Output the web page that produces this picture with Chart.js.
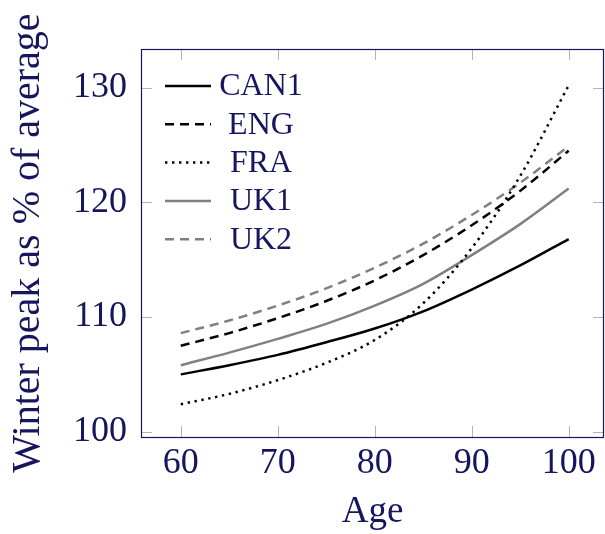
<!DOCTYPE html>
<html>
<head>
<meta charset="utf-8">
<script src="https://cdn.jsdelivr.net/npm/chart.js@4.4.1/dist/chart.umd.min.js"></script>
<style>
  html, body { margin: 0; padding: 0; background: #fff; }
  canvas { display: block; }
</style>
</head>
<body>
<canvas id="chart" width="605" height="534"></canvas>
<script>
/* ---------- data ---------- */
const ages     = [60, 65, 70, 75, 80, 85, 90, 95, 100];
const can1     = [105.0, 105.8, 106.7, 107.8, 109.0, 110.5, 112.4, 114.5, 116.8];
const eng      = [107.5, 108.6, 109.9, 111.4, 113.2, 115.4, 118.0, 121.0, 124.5];
const fra      = [102.4, 103.3, 104.5, 106.0, 108.0, 111.2, 116.0, 122.3, 130.2];
const uk1      = [105.8, 106.9, 108.1, 109.4, 111.0, 112.9, 115.4, 118.1, 121.2];
const uk2      = [108.6, 109.7, 111.0, 112.5, 114.3, 116.4, 118.9, 121.7, 124.9];
const xTicks   = [60, 70, 80, 90, 100];
const yTicks   = [100, 110, 120, 130];

const NAVY  = '#16165e';
const GREY  = '#808080';
const SERIF = '"Liberation Serif", "DejaVu Serif", serif';

const pts = ys => ages.map((a, i) => ({ x: a, y: ys[i] }));
const line = (label, ys, color, dash) => ({
  label, data: pts(ys), borderColor: color, borderWidth: 2.5,
  borderDash: dash, pointRadius: 0, cubicInterpolationMode: 'monotone', fill: false
});

/* ---------- frame, inward ticks, legend ---------- */
const pgfLook = {
  id: 'pgfLook',
  afterDatasetsDraw(chart) {
    const { ctx, chartArea: a, scales: { x, y } } = chart;
    ctx.save();
    // inward tick marks on all four sides
    ctx.strokeStyle = '#b4b4b4';
    ctx.lineWidth = 1;
    ctx.beginPath();
    xTicks.forEach(v => {
      const px = Math.round(x.getPixelForValue(v)) + 0.5;
      ctx.moveTo(px, a.bottom); ctx.lineTo(px, a.bottom - 11);
      ctx.moveTo(px, a.top);    ctx.lineTo(px, a.top + 11);
    });
    yTicks.forEach(v => {
      const py = Math.round(y.getPixelForValue(v)) + 0.5;
      ctx.moveTo(a.left, py);  ctx.lineTo(a.left + 11, py);
      ctx.moveTo(a.right, py); ctx.lineTo(a.right - 11, py);
    });
    ctx.stroke();
    // frame
    ctx.strokeStyle = NAVY;
    ctx.lineWidth = 1.2;
    ctx.strokeRect(Math.round(a.left) + 0.5, Math.round(a.top) + 0.5,
                   Math.round(a.right - a.left) - 1, Math.round(a.bottom - a.top));
    // legend (pgfplots style, no box)
    ctx.font = '32px ' + SERIF;
    ctx.textAlign = 'center';
    ctx.textBaseline = 'middle';
    chart.data.datasets.forEach((ds, i) => {
      const yy = 86 + i * 38.3;
      ctx.strokeStyle = ds.borderColor;
      ctx.lineWidth = ds.borderWidth;
      ctx.setLineDash(ds.borderDash || []);
      ctx.beginPath();
      ctx.moveTo(165, yy); ctx.lineTo(211, yy);
      ctx.stroke();
      ctx.setLineDash([]);
      ctx.fillStyle = NAVY;
      ctx.fillText(ds.label, 261, yy + 1);
    });
    ctx.restore();
  }
};

new Chart(document.getElementById('chart'), {
  type: 'line',
  data: {
    datasets: [
      line('CAN1', can1, '#000', []),
      line('ENG',  eng,  '#000', [9, 6]),
      line('FRA',  fra,  '#000', [2.4, 4.6]),
      line('UK1',  uk1,  GREY,   []),
      line('UK2',  uk2,  GREY,   [9, 6])
    ]
  },
  options: {
    responsive: false,
    animation: false,
    layout: { padding: { top: 49, right: 1, left: 0, bottom: 0 } },
    plugins: { legend: { display: false }, tooltip: { enabled: false } },
    scales: {
      x: {
        type: 'linear', min: 55.9, max: 103.64,
        afterBuildTicks: s => { s.ticks = xTicks.map(v => ({ value: v })); },
        afterFit: s => { s.height = 97; },
        grid: { display: false, drawTicks: false },
        border: { display: false },
        ticks: { color: NAVY, padding: 5, font: { family: SERIF, size: 36 } },
        title: { display: true, text: 'Age', color: NAVY, padding: { top: 0, bottom: 0 },
                 font: { family: SERIF, size: 37 } }
      },
      y: {
        type: 'linear', min: 99.54, max: 133.37,
        afterBuildTicks: s => { s.ticks = yTicks.map(v => ({ value: v })); },
        afterFit: s => { s.width = 141; },
        grid: { display: false, drawTicks: false },
        border: { display: false },
        ticks: { color: NAVY, padding: 14, font: { family: SERIF, size: 36 } },
        title: { display: true, text: 'Winter peak as % of average', color: NAVY,
                 padding: { top: 4, bottom: 0 }, font: { family: SERIF, size: 40 } }
      }
    }
  },
  plugins: [pgfLook]
});
</script>
</body>
</html>
